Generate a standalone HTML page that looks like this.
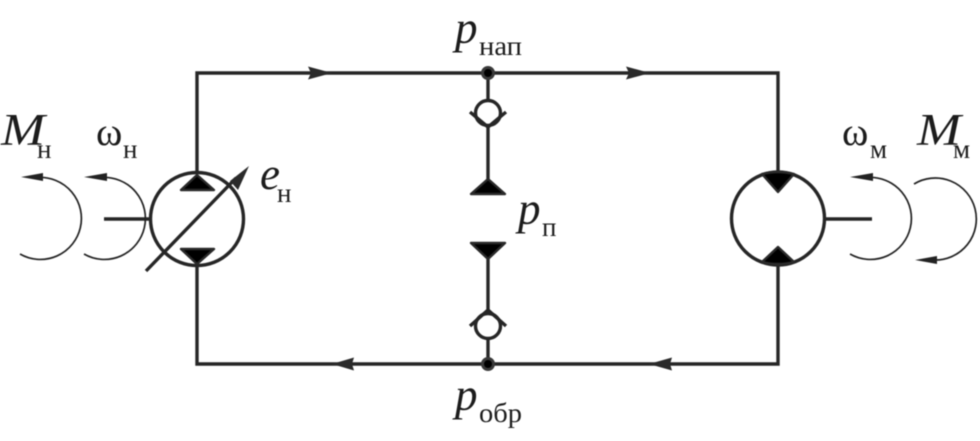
<!DOCTYPE html>
<html>
<head>
<meta charset="utf-8">
<style>
html,body{margin:0;padding:0;background:#fff;width:980px;height:441px;overflow:hidden}
svg{display:block;filter:blur(0.45px)}
text{font-family:"Liberation Serif",serif;fill:#1c1c1c}
.i{font-style:italic;font-size:45px}
.s{font-size:27px}
.w{font-size:40px}
</style>
</head>
<body>
<svg width="980" height="441" viewBox="0 0 980 441" xmlns="http://www.w3.org/2000/svg">
<g fill="none" stroke="#262626" stroke-width="3.400">
<path d="M197 172V73H778V172"/>
<path d="M197 266V364H778V265"/>
<path d="M488 73V100M488 127V180"/>
<path d="M488 258V310M488 338V364"/>
<circle cx="197" cy="219" r="46.500"/>
<circle cx="778" cy="218.500" r="46.500"/>
<circle cx="488" cy="113" r="12.500"/>
<circle cx="488" cy="326" r="12.500"/>
<path d="M470 112L488 127L506 112"/>
<path d="M470 326L488 310L506 326"/>
<path d="M104 219H151"/>
<path d="M825 219H872"/>
<path d="M146 271L236 178"/>
</g>
<g fill="#000" stroke="#2a2a2a" stroke-width="2.400" stroke-linejoin="round">
<path d="M197 175L214 190H181Z"/>
<path d="M197 264L214 249H181Z"/>
<path d="M488 179L505 194H471Z"/>
<path d="M488 259L505 243H471Z"/>
<path d="M762 174Q778 170 794 174L778 192Z"/>
<path d="M762 262Q778 266 794 262L778 247Z"/>
</g>
<g fill="#2a2a2a">
<path d="M249 166L238 190L230 181Z"/>
<path d="M308 66.500L332 73L308 79.500L311 73Z"/>
<path d="M626 66.500L650 73L626 79.500L629 73Z"/>
<path d="M354 357.500L332 364L354 370.500L352 364Z"/>
<path d="M672 357.500L649 364L672 370.500L670 364Z"/>
</g>
<g fill="#000" stroke="#3a3a3a" stroke-width="3">
<circle cx="488" cy="73" r="5.500"/>
<circle cx="488" cy="364" r="5.500"/>
</g>
<g fill="none" stroke="#222" stroke-width="1.700">
<path d="M38 177.500A41 41 0 1 1 20 254"/>
<path d="M102 177.500A41 41 0 1 1 84 254"/>
<path d="M868 177.500A41 41 0 1 1 850 254"/>
<path d="M914 184A41 41 0 1 1 934 260"/>
</g>
<g fill="#222">
<path d="M21 177L43 173V181Z"/>
<path d="M84 177L107 173V181Z"/>
<path d="M850 177L873 173V181Z"/>
<path d="M915 260L937 256V264Z"/>
</g>
<text class="i" x="455" y="43">p</text>
<text class="s" x="479" y="55" textLength="43" lengthAdjust="spacingAndGlyphs">нап</text>
<text class="i" x="455" y="410">p</text>
<text class="s" x="479" y="422" textLength="43" lengthAdjust="spacingAndGlyphs">обр</text>
<text class="i" x="518" y="224">p</text>
<text class="s" x="542" y="236">п</text>
<text class="i" x="260" y="189">e</text>
<text class="s" x="277" y="202">н</text>
<text class="i" x="1" y="145" textLength="44" lengthAdjust="spacingAndGlyphs">M</text>
<text class="s" x="37" y="158">н</text>
<text class="w" x="96" y="145">ω</text>
<text class="s" x="123" y="158">н</text>
<text class="w" x="842" y="145">ω</text>
<text class="s" x="870" y="158">м</text>
<text class="i" x="917" y="145" textLength="44" lengthAdjust="spacingAndGlyphs">M</text>
<text class="s" x="953" y="158">м</text>
</svg>
</body>
</html>
